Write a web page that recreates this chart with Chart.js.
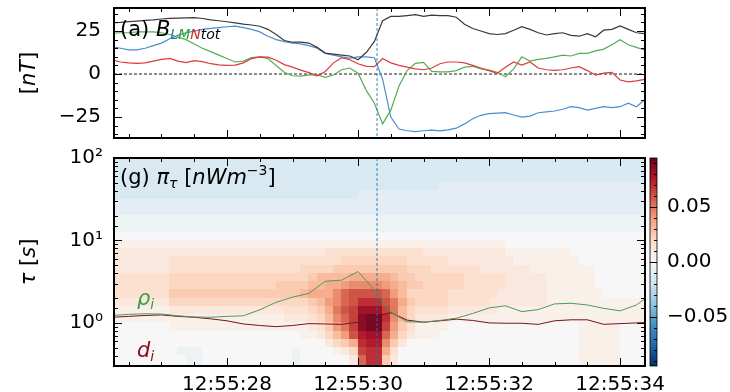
<!DOCTYPE html>
<html lang="en">
<head>
<meta charset="UTF-8">
<title>B LMN and pi_tau</title>
<script src="https://cdn.jsdelivr.net/npm/chart.js"></script>
<style>
  body { margin: 0; background: #fff; }
  #wrap { position: relative; width: 730px; height: 392px; }
  canvas { position: absolute; }
  #topChart { left: 0; top: 0; }
  #botChart { left: 0; top: 145px; }
  #cbar { left: 645px; top: 145px; }
</style>
</head>
<body>
<div id="wrap">
  <canvas id="topChart" width="730" height="145"></canvas>
  <canvas id="botChart" width="730" height="247"></canvas>
  <canvas id="cbar" width="85" height="247"></canvas>
</div>
<script>
// ---- data: seconds after 12:55:00 ----
const times = [26.25,26.375,26.5,26.625,26.75,26.875,27,27.125,27.25,27.375,27.5,27.625,27.75,27.875,
  28,28.125,28.25,28.375,28.5,28.625,28.75,28.875,29,29.125,29.25,29.375,29.5,29.625,29.75,29.875,
  30,30.125,30.25,30.375,30.5,30.625,30.75,30.875,31,31.125,31.25,31.375,31.5,31.625,31.75,31.875,
  32,32.125,32.25,32.375,32.5,32.625,32.75,32.875,33,33.125,33.25,33.375,33.5,33.625,33.75,33.875,
  34,34.125,34.25,34.375];

// magnetic field components [nT]
const bTot = [29.8,30,30.5,30.8,31.2,31.5,32,32.4,32.5,32.6,32.8,32.3,31.5,31,30.4,29.8,29,28.5,27.8,26,
  23,19.5,18.5,18.5,18,15.5,12.2,11.6,11,10.5,8.3,12.5,19,31,33.5,33.5,34,34.5,33.5,34.3,
  34,34,33,29,26.5,25,23.5,23,23.5,25.5,27.5,26,24,22.7,23.5,24,22.5,22,23.5,21.7,
  25.5,26,28,26,24,23.5];
const bL = [16,15,14,14,15,16.5,18,20.5,22.5,24,25,26,26.5,27,27.5,27.8,27,26,24.5,22,
  20,18.8,18,17.5,16.5,15,12,11,10,9.3,10,10,9.5,-3,-25,-32,-33,-33.5,-33,-32.6,
  -33,-32.5,-31.5,-29,-26,-24,-23,-22.7,-22.5,-23.8,-25,-24.5,-22.5,-22,-21.5,-20.5,-19,-19.5,-21,-20,
  -19,-19.5,-19,-17,-19,-15];
const bM = [23.7,24,24,24.5,24.6,24.5,24,23,21.5,20,17.5,15,13,11,9,7,7.5,9.5,10,9,
  5,1,-1,-1.2,-0.5,-0.5,-1.9,-0.6,2.5,3.5,0.5,-9.5,-17,-29,-21,-7,2,6.2,6.8,1.5,
  1.3,1.3,2,4,4.5,3,2.3,1,-1.6,3,10,7.5,8.5,9.1,10,11,10.5,12,12,13.5,
  14.5,17,20,17,15.5,14];
const bN = [8.1,7,6.5,6.2,6.5,7.5,8.5,9.1,7.5,6.6,7.8,7.2,6,5.3,5,5.2,6.5,9,10,9.8,
  8,5.5,4,2.3,0.8,-1,1.5,6.5,9.5,8.3,6,4.5,4.3,9,6.5,5,4,3,2.5,3.5,
  6,7,7,6.5,5,3.5,2,0.4,4,7,5.2,7,3.5,2.5,2.1,2.5,3.5,4.3,2,-0.6,
  0.5,1,-3.5,-4.5,-4,-3.1];

// ion gyroradius and inertial length as time scales [s]
const tauTimes = [26.25,26.5,26.75,27,27.25,27.5,27.75,28,28.25,28.5,28.75,29,29.25,29.5,29.75,30,
  30.25,30.5,30.75,31,31.25,31.5,31.75,32,32.25,32.5,32.75,33,33.25,33.5,33.75,34,34.25,34.375];
const rhoI = [1.23,1.27,1.29,1.28,1.22,1.18,1.17,1.2,1.22,1.44,1.78,2.05,2.28,3.2,3.3,4.2,
  2.5,1.35,1.03,1.02,1.07,1.14,1.3,1.52,1.61,1.37,1.45,1.7,1.73,1.65,1.5,1.4,1.65,1.95];
const dI = [1.17,1.2,1.23,1.25,1.2,1.17,1.12,1.06,0.97,0.93,0.9,0.93,0.98,0.97,0.96,1.02,
  1.2,1.33,1.08,1.02,1.06,1.11,1.07,1.0,0.99,0.99,0.96,1.06,1.09,1.09,0.96,0.98,1.0,1.01];

// pi_tau cells: one char per 0.125 s column (starting at times[i]), rows are log10(tau) bands,
// listed top (1.9..2.0) to bottom (-0.6..-0.5). value = piMin + piStep * code index
const piCodes = '0123456789ABCDEFGHIJKLMNO';
const piMin = -0.03, piStep = 0.005, cellWidth = 0.125;
const tauEdges = [-0.6,-0.5,-0.4,-0.3,-0.2,-0.1,0,0.1,0.2,0.3,0.4,0.5,0.6,0.7,0.8,0.9,1.0,
  1.1,1.2,1.3,1.4,1.5,1.6,1.7,1.8,1.9,2.0];
const piRows = [
  '3333333333 3333333333 3333333333 3333333333 3333333333 3333333333 333333',
  '3333333333 3333333333 3333333333 3333333333 3333333333 3333333333 333333',
  '3333333333 3333333333 3333333333 3333333333 3333333333 3333333333 333333',
  '3333333333 3333333333 3333333333 3333333333 4444444444 4444444444 444444',
  '3333333333 3333333333 3333333333 4444444444 4444444444 4444444444 444444',
  '4444444444 4444444444 4444444444 4444444444 4444444444 4444444444 444444',
  '4444444444 4444444444 4444444444 4444444444 4444444444 4444444444 444444',
  '5555555555 5555555555 5555555555 5555555555 5555555555 5555555555 555555',
  '5555555555 5555555555 5555555555 5555555555 5555555555 5555555555 555555',
  '6666666666 6666666666 6666666666 6666666666 6666666666 6666666666 666666',
  '7777777777 7777777777 7777777777 7777777777 77777777 6666666666 66666666',
  '8888888888 8888888888 888888 999999999999 8888888888 77777777 6666666666',
  '8888888 9999999999 9999999999 9 AAAAAAAA 99999 88888888 77777777 666666666',
  '8888888 9999999999 999999 AAAA BBBBBBBBB AAA 999999 888888 77777777 6666666',
  '9999999 AAAAAAAAAA AAAAAAA B CCCC DDDDD C BB AAAAAA 99999 88888 777777 6666666',
  '9999999 AAAAAAAAAA AAA BBBB CC DD E FFFF E D C BB AAAAA 99999 88888 777777 6666666',
  '9999999 BBBBBBBBBB BBBBBB C DDD F H IIII H E C AAAAA 999999 888888 7777777 666666',
  '8888888 AAAAAAAAAA AAAAAAA B C E F H I KKK I G D B AAAA 99999 8888888 7777777777777',
  '7777777 8888888888 8888 999 A B D G I J MMM J G C A 9999 888888 7777777777 777777777',
  '7777777777 7777777777 7 888 9 A C F H J N OO K F C A 8888 7777777777 7777777777 77777',
  '6666666 7777777777 7777777 8 9 B E G J N OO J E B 9 7777 6666666666 6666 66 77777 6666',
  '6666666666 6666666666 666 77 8 A C E I L MM H D A 8 777 6666666666 66666 66 77777 6666',
  '6666666666 6666666666 666666 8 A B D K LL F B 8 6666666666 666666666 66 77777 6666',
  '66666666 555 66666666666 5 6666 7 8 A J KK D 9 6666666666 6666666666 66 77777 6666',
  '666666666 55 66666666666 5 666666 8 H KK B 8 6666666666 6666666666 66 77777 6666',
  '666666666 55 66666666666 5 666666 8 H KK B 8 6666666666 6666666666 66 77777 6666'
];

// tick labels
const timeTickValues = [28, 30, 32, 34];
const timeTickLabels = ['12:55:28', '12:55:30', '12:55:32', '12:55:34'];
const bTickValues = [-25, 0, 25];
const bTickLabels = ['\u221225', '0', '25'];
const tauTickValues = [1, 10, 100];
const tauTickLabels = ['10\u2070', '10\u00b9', '10\u00b2'];
const cbTickValues = [-0.05, 0, 0.05];
const cbTickLabels = ['\u22120.05', '0.00', '0.05'];

const tMin = 26.275, tMax = 34.38;
const eventTime = 30.29;
const cLim = 0.0945;

// ---- helpers ----
const FAM = '"DejaVu Sans"';
const fnt = (size, italic) => (italic ? 'italic ' : '') + size + 'px ' + FAM;
Chart.defaults.font.family = 'DejaVu Sans';
Chart.defaults.font.size = 20;
Chart.defaults.color = '#000';

const pts = (xs, ys) => xs.map((x, i) => ({ x: x, y: ys[i] }));

function pickLabel(values, labels, v) {
  for (let i = 0; i < values.length; i++) {
    if (Math.abs(values[i] - v) < 1e-6 * Math.max(1, Math.abs(values[i]))) return labels[i];
  }
  return '';
}

const rdbuStops = ['#053061','#2166ac','#4393c3','#92c5de','#d1e5f0','#f7f7f7',
  '#fddbc7','#f4a582','#d6604d','#b2182b','#67001f'];
const hexRgb = h => [1, 3, 5].map(i => parseInt(h.substr(i, 2), 16));
function rdbu(v) {
  let f = (v + cLim) / (2 * cLim);
  f = Math.min(1, Math.max(0, f));
  const p = f * 10;
  const i = Math.min(9, Math.floor(p));
  const t = p - i;
  const a = hexRgb(rdbuStops[i]), b = hexRgb(rdbuStops[i + 1]);
  const c = a.map((ai, k) => Math.round(ai + (b[k] - ai) * t));
  return 'rgb(' + c.join(',') + ')';
}

function drawRuns(ctx, x, y, runs) {
  let cx = x;
  runs.forEach(r => {
    ctx.font = r.font;
    ctx.fillStyle = r.color || '#000';
    ctx.fillText(r.text, cx, y + (r.dy || 0));
    cx += ctx.measureText(r.text).width;
  });
  return cx - x;
}
function runsWidth(ctx, runs) {
  let w = 0;
  runs.forEach(r => { ctx.font = r.font; w += ctx.measureText(r.text).width; });
  return w;
}
function drawVertical(ctx, cx, cy, runs) {
  ctx.save();
  ctx.translate(cx, cy);
  ctx.rotate(-Math.PI / 2);
  const w = runsWidth(ctx, runs);
  drawRuns(ctx, -w / 2, 7, runs);
  ctx.restore();
}

// inward ticks on all four sides plus the black frame
const frameTicks = {
  id: 'frameTicks',
  afterDatasetsDraw(chart, args, opts) {
    const { ctx, chartArea: a, scales } = chart;
    ctx.save();
    ctx.strokeStyle = '#000';
    ctx.lineWidth = 1;
    ctx.beginPath();
    const xs = scales.x;
    if (!opts.noX) {
      xs.ticks.forEach(t => {
        const px = Math.round(xs.getPixelForValue(t.value)) + 0.5;
        if (px <= a.left + 2 || px >= a.right - 2) return;
        const len = t.label ? 8 : 4;
        ctx.moveTo(px, a.bottom); ctx.lineTo(px, a.bottom - len);
        ctx.moveTo(px, a.top); ctx.lineTo(px, a.top + len);
      });
    }
    const ys = scales.y;
    ys.ticks.forEach(t => {
      const py = Math.round(ys.getPixelForValue(t.value)) + 0.5;
      if (py <= a.top + 2 || py >= a.bottom - 2) return;
      const len = t.label ? (opts.cbar ? a.width : 8) : (opts.cbar ? 3 : 4);
      if (!opts.cbar) { ctx.moveTo(a.left, py); ctx.lineTo(a.left + len, py); }
      ctx.moveTo(a.right, py); ctx.lineTo(a.right - len, py);
    });
    ctx.stroke();
    ctx.lineWidth = opts.cbar ? 0.8 : 2;
    ctx.strokeRect(a.left, a.top, a.width, a.height);
    ctx.restore();
  }
};

// dashed marker of the event time
const eventLine = {
  id: 'eventLine',
  afterDatasetsDraw(chart) {
    const { ctx, chartArea: a, scales: { x } } = chart;
    const px = x.getPixelForValue(eventTime);
    ctx.save();
    ctx.strokeStyle = '#1f77b4';
    ctx.lineWidth = 0.9;
    ctx.setLineDash([3, 2]);
    ctx.beginPath(); ctx.moveTo(px, a.top); ctx.lineTo(px, a.bottom); ctx.stroke();
    ctx.restore();
  }
};

const zeroLine = {
  id: 'zeroLine',
  beforeDatasetsDraw(chart) {
    const { ctx, chartArea: a, scales: { y } } = chart;
    const py = y.getPixelForValue(0);
    ctx.save();
    ctx.strokeStyle = '#000';
    ctx.lineWidth = 0.9;
    ctx.setLineDash([3, 2]);
    ctx.beginPath(); ctx.moveTo(a.left, py); ctx.lineTo(a.right, py); ctx.stroke();
    ctx.restore();
  }
};

const heatmap = {
  id: 'heatmap',
  beforeDatasetsDraw(chart) {
    const { ctx, chartArea: a, scales: { x, y } } = chart;
    ctx.save();
    ctx.beginPath(); ctx.rect(a.left, a.top, a.width, a.height); ctx.clip();
    const n = piRows.length;
    piRows.forEach((row, i) => {
      const r = n - 1 - i;
      const yTop = Math.floor(y.getPixelForValue(Math.pow(10, tauEdges[r + 1])));
      const yBot = Math.ceil(y.getPixelForValue(Math.pow(10, tauEdges[r])));
      const cells = row.replace(/ /g, '');
      for (let c = 0; c < cells.length && c < times.length; c++) {
        const v = piMin + piStep * piCodes.indexOf(cells[c]);
        const x0 = Math.floor(x.getPixelForValue(times[c]));
        const x1 = Math.ceil(x.getPixelForValue(times[c] + cellWidth));
        ctx.fillStyle = rdbu(v);
        ctx.fillRect(x0, yTop, x1 - x0, yBot - yTop);
      }
    });
    ctx.restore();
  }
};

const cbarFill = {
  id: 'cbarFill',
  beforeDatasetsDraw(chart) {
    const { ctx, chartArea: a } = chart;
    const g = ctx.createLinearGradient(0, a.bottom, 0, a.top);
    rdbuStops.forEach((c, i) => g.addColorStop(i / 10, c));
    ctx.save();
    ctx.fillStyle = g;
    ctx.fillRect(a.left, a.top, a.width, a.height);
    ctx.restore();
  }
};

const topText = {
  id: 'topText',
  afterDraw(chart) {
    const ctx = chart.ctx;
    ctx.save();
    ctx.textBaseline = 'alphabetic';
    drawRuns(ctx, 120, 36, [
      { text: '(a) ', font: fnt(21) },
      { text: 'B', font: fnt(21, true) },
      { text: 'L', font: fnt(14, true), color: '#1f77b4', dy: 3 },
      { text: 'M', font: fnt(14, true), color: '#2ca02c', dy: 3 },
      { text: 'N', font: fnt(14, true), color: '#d62728', dy: 3 },
      { text: 'tot', font: fnt(14, true), color: '#000', dy: 3 }
    ]);
    drawVertical(ctx, 28, 73, [
      { text: '[', font: fnt(21) },
      { text: 'nT', font: fnt(21, true) },
      { text: ']', font: fnt(21) }
    ]);
    ctx.restore();
  }
};

const botText = {
  id: 'botText',
  afterDraw(chart) {
    const ctx = chart.ctx;
    ctx.save();
    ctx.textBaseline = 'alphabetic';
    drawRuns(ctx, 120, 39, [
      { text: '(g) ', font: fnt(21) },
      { text: '\u03c0', font: fnt(21, true) },
      { text: '\u03c4', font: fnt(14, true), dy: 4 },
      { text: ' [', font: fnt(21) },
      { text: 'nWm', font: fnt(21, true) },
      { text: '\u22123', font: fnt(14), dy: -9 },
      { text: ']', font: fnt(21) }
    ]);
    drawRuns(ctx, 137, 160, [
      { text: '\u03c1', font: fnt(21, true), color: '#3d9a4b' },
      { text: 'i', font: fnt(14, true), color: '#3d9a4b', dy: 4 }
    ]);
    drawRuns(ctx, 137, 212, [
      { text: 'd', font: fnt(21, true), color: '#8c0f22' },
      { text: 'i', font: fnt(14, true), color: '#8c0f22', dy: 4 }
    ]);
    drawVertical(ctx, 28, 117, [
      { text: '\u03c4', font: fnt(21, true) },
      { text: ' [', font: fnt(21) },
      { text: 's', font: fnt(21, true) },
      { text: ']', font: fnt(21) }
    ]);
    ctx.restore();
  }
};

const noPad = s => { s.paddingTop = 0; s.paddingBottom = 0; s.paddingLeft = 0; s.paddingRight = 0; };
const common = {
  responsive: false,
  animation: false,
  events: [],
  plugins: { legend: { display: false }, tooltip: { enabled: false } },
  elements: { point: { radius: 0 }, line: { borderWidth: 1.2, tension: 0 } }
};

// ---- top panel: B in LMN ----
new Chart(document.getElementById('topChart'), {
  type: 'line',
  data: {
    datasets: [
      { label: 'tot', data: pts(times, bTot), borderColor: '#3a3a3a' },
      { label: 'N', data: pts(times, bN), borderColor: '#e0393b' },
      { label: 'M', data: pts(times, bM), borderColor: '#55ad55' },
      { label: 'L', data: pts(times, bL), borderColor: '#4a8fcc' }
    ]
  },
  options: Object.assign({}, common, {
    layout: { padding: { left: 0, right: 85, top: 8, bottom: 0 } },
    scales: {
      x: {
        type: 'linear', min: tMin, max: tMax,
        grid: { display: false }, border: { display: false },
        ticks: { display: false, stepSize: 0.5, includeBounds: false, autoSkip: false, maxTicksLimit: 200,
          callback: v => pickLabel(timeTickValues, timeTickLabels, v) },
        afterFit(s) { s.height = 7; noPad(s); }
      },
      y: {
        min: -37.2, max: 38.4,
        grid: { display: false }, border: { display: false },
        ticks: { stepSize: 5, includeBounds: false, autoSkip: false, maxTicksLimit: 200, padding: 5,
          font: { size: 20 },
          callback: v => pickLabel(bTickValues, bTickLabels, v) },
        afterFit(s) { s.width = 114; noPad(s); }
      }
    }
  }),
  plugins: [zeroLine, eventLine, frameTicks, topText]
});

// ---- bottom panel: pi_tau scalogram ----
new Chart(document.getElementById('botChart'), {
  type: 'line',
  data: {
    datasets: [
      { label: 'rho_i', data: pts(tauTimes, rhoI), borderColor: '#4e9a5a', borderWidth: 1 },
      { label: 'd_i', data: pts(tauTimes, dI), borderColor: '#7a1020', borderWidth: 1 }
    ]
  },
  options: Object.assign({}, common, {
    layout: { padding: { left: 0, right: 85, top: 13, bottom: 0 } },
    scales: {
      x: {
        type: 'linear', min: tMin, max: tMax,
        grid: { display: false }, border: { display: false },
        ticks: { stepSize: 0.5, includeBounds: false, autoSkip: false, maxTicksLimit: 200,
          maxRotation: 0, padding: -1, font: { size: 20 },
          callback: v => pickLabel(timeTickValues, timeTickLabels, v) },
        afterFit(s) { s.height = 26; noPad(s); }
      },
      y: {
        type: 'logarithmic', min: 0.3, max: 100,
        grid: { display: false }, border: { display: false },
        ticks: { autoSkip: false, padding: 3, font: { size: 20 },
          callback: v => pickLabel(tauTickValues, tauTickLabels, v) },
        afterFit(s) { s.width = 114; noPad(s); }
      }
    }
  }),
  plugins: [heatmap, eventLine, frameTicks, botText]
});

// ---- colour bar ----
new Chart(document.getElementById('cbar'), {
  type: 'scatter',
  data: { datasets: [{ data: [] }] },
  options: Object.assign({}, common, {
    layout: { padding: { left: 5, right: 0, top: 13, bottom: 26 } },
    scales: {
      x: { display: false, min: 0, max: 1 },
      y: {
        position: 'right', min: -cLim, max: cLim,
        grid: { display: false }, border: { display: false },
        ticks: { stepSize: 0.01, includeBounds: false, autoSkip: false, maxTicksLimit: 200, padding: 2,
          font: { size: 20 },
          callback: v => pickLabel(cbTickValues, cbTickLabels, v) },
        afterFit(s) { s.width = 73; noPad(s); }
      }
    }
  }),
  plugins: [cbarFill, { id: 'cbTicks', afterDatasetsDraw: (c, a, o) => frameTicks.afterDatasetsDraw(c, a, { cbar: true, noX: true }) }]
});
</script>
</body>
</html>
